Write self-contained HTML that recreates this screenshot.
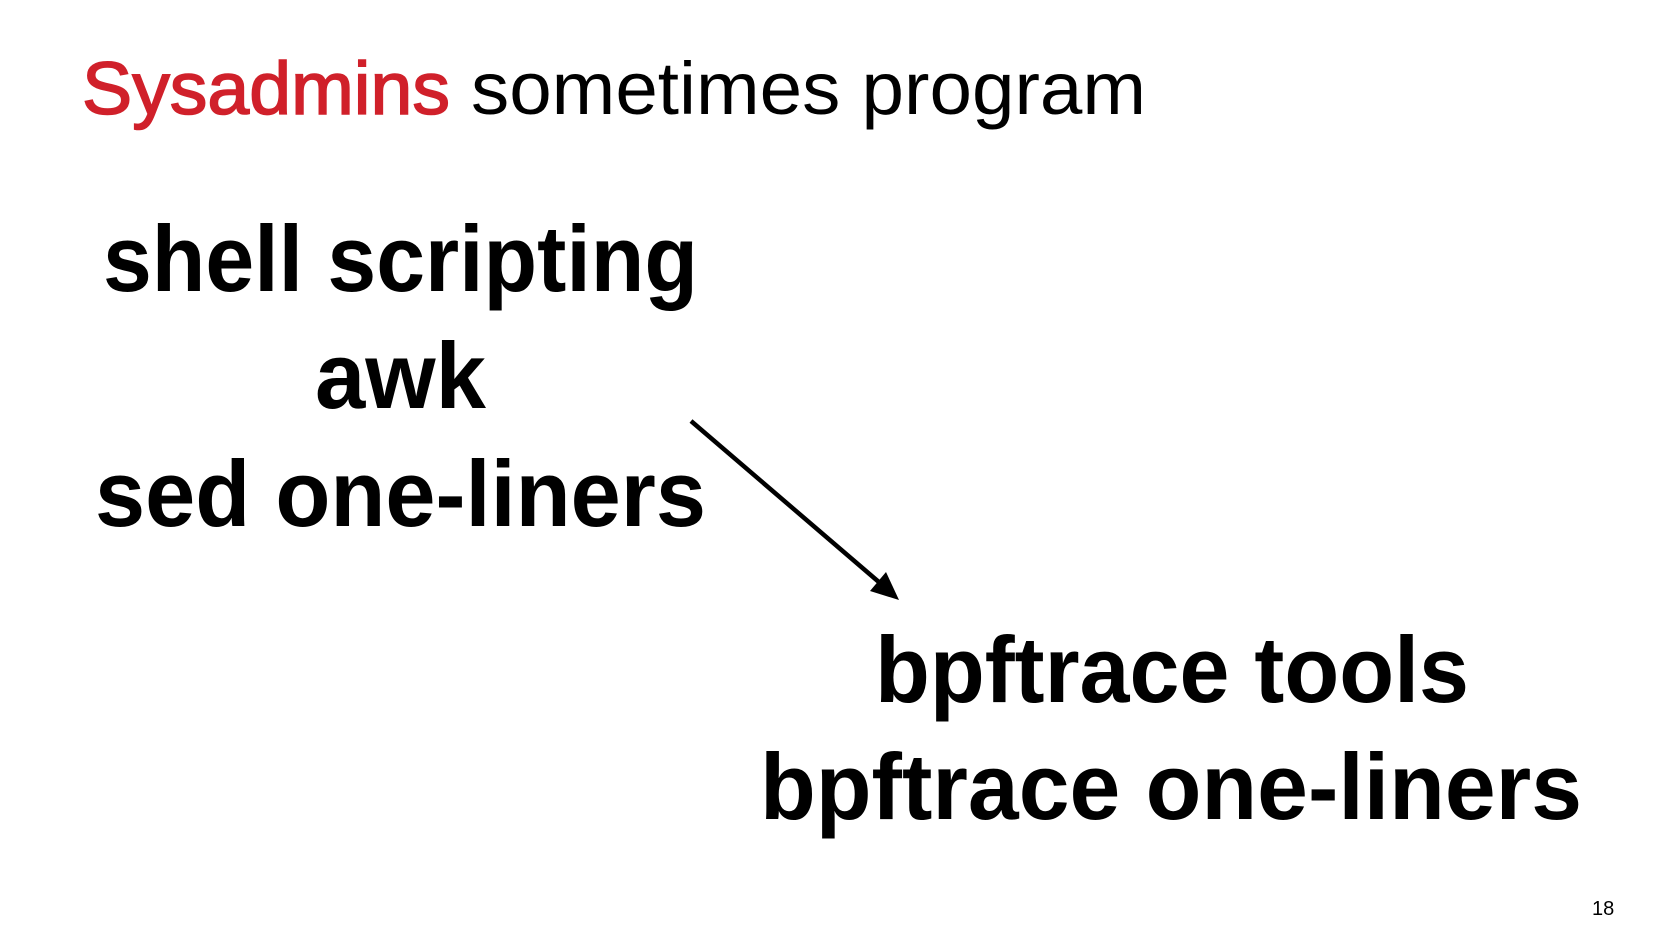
<!DOCTYPE html>
<html><head><meta charset="utf-8"><style>
html,body{margin:0;padding:0;background:#fff;}
svg{display:block;}
</style></head><body>
<svg width="1654" height="931" viewBox="0 0 1654 931" xmlns="http://www.w3.org/2000/svg">
<rect width="1654" height="931" fill="#fff"/>
<text x="82" y="114" font-family="Liberation Sans, sans-serif" font-size="74" fill="#d0202a" stroke="#d0202a" stroke-width="1.6" textLength="368" lengthAdjust="spacingAndGlyphs">Sysadmins</text>
<text x="471" y="114" font-family="Liberation Sans, sans-serif" font-size="74" fill="#000" textLength="675" lengthAdjust="spacingAndGlyphs">sometimes program</text>
<g font-family="Liberation Sans, sans-serif" font-weight="bold" font-size="94" fill="#000">
<text x="103" y="291" textLength="595" lengthAdjust="spacingAndGlyphs">shell scripting</text>
<text x="315" y="408" textLength="171" lengthAdjust="spacingAndGlyphs">awk</text>
<text x="95" y="526" textLength="611" lengthAdjust="spacingAndGlyphs">sed one-liners</text>
<text x="875" y="702" textLength="594" lengthAdjust="spacingAndGlyphs">bpftrace tools</text>
<text x="760" y="819" textLength="822" lengthAdjust="spacingAndGlyphs">bpftrace one-liners</text>
</g>
<line x1="691" y1="421" x2="880" y2="583" stroke="#000" stroke-width="4.5"/>
<polygon points="899,600 870,591 886,572" fill="#000"/>
<text x="1592" y="915" font-family="Liberation Sans, sans-serif" font-size="20" fill="#000">18</text>
</svg>
</body></html>
